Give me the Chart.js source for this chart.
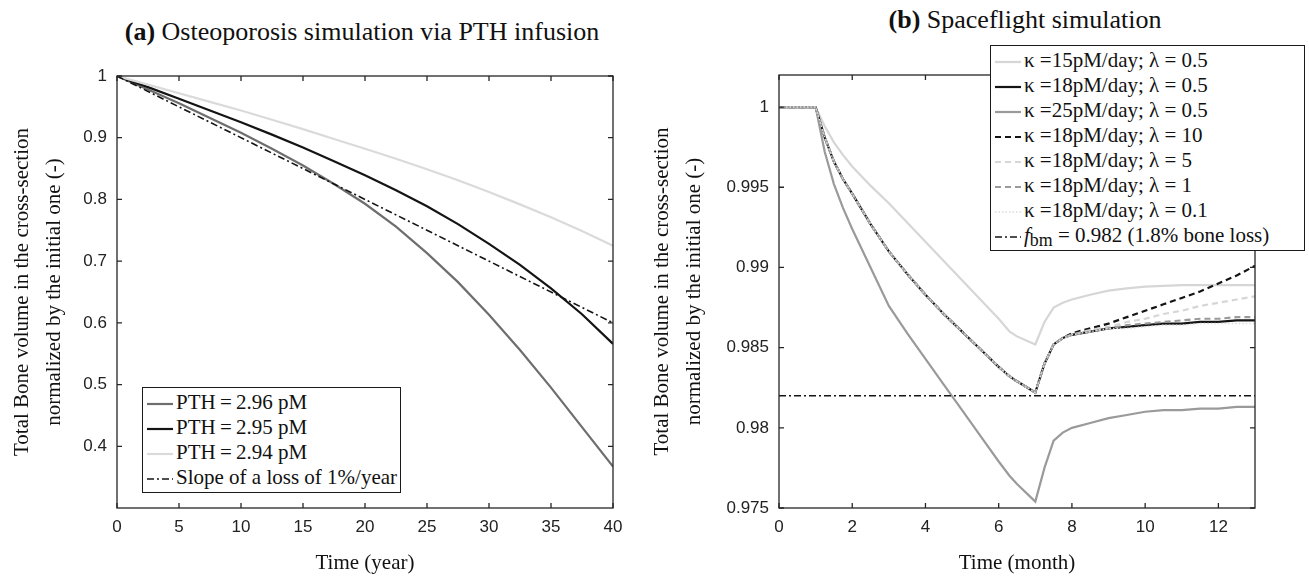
<!DOCTYPE html>
<html lang="en">
<head>
<meta charset="UTF-8" />
<title>Bone volume simulations</title>
<script src="https://cdn.jsdelivr.net/npm/chart.js@4.4.1/dist/chart.umd.min.js"></script>
<style>
  body { margin: 0; width: 1309px; height: 579px; background: #fff; position: relative; overflow: hidden; font-family: "Liberation Serif", "Times New Roman", serif; color: #111; }
  .title { position: absolute; font-size: 26px; line-height: 30px; white-space: nowrap; transform: translateX(-50%); }
  #cA { position: absolute; left: 0; top: 0; }
  #cB { position: absolute; left: 640px; top: 0; }
  .legend { position: absolute; background: #fff; border: 1.5px solid #1a1a1a; font-size: 21px; line-height: 25px; padding: 2px 3px 2px 4px; white-space: nowrap; }
  .legend svg { vertical-align: middle; margin-right: 3px; }
  .legend sub { font-size: 0.85em; vertical-align: -0.25em; line-height: 0; }
</style>
</head>
<body>
<div class="title" style="left:362px; top:17px"><b>(a)</b> Osteoporosis simulation via PTH infusion</div>
<div class="title" style="left:1025px; top:5px"><b>(b)</b> Spaceflight simulation</div>
<canvas id="cA" width="640" height="579"></canvas>
<canvas id="cB" width="669" height="579"></canvas>
<div id="legA" class="legend" style="left:142px; top:387px"></div>
<div id="legB" class="legend" style="left:990px; top:45px; width:306px"></div>

<script>
// (a) osteoporosis, time in years
var years = [0, 2.5, 5, 7.5, 10, 12.5, 15, 17.5, 20, 22.5, 25, 27.5, 30, 32.5, 35, 37.5, 40];
var pth296 = [1.000, 0.978, 0.956, 0.932, 0.908, 0.882, 0.855, 0.825, 0.793, 0.756, 0.713, 0.666, 0.613, 0.556, 0.495, 0.431, 0.367];
var pth295 = [1.000, 0.982, 0.963, 0.944, 0.925, 0.905, 0.884, 0.862, 0.839, 0.815, 0.789, 0.760, 0.728, 0.694, 0.656, 0.614, 0.566];
var pth294 = [1.000, 0.986, 0.972, 0.958, 0.944, 0.929, 0.914, 0.898, 0.882, 0.866, 0.849, 0.831, 0.812, 0.792, 0.771, 0.749, 0.725];
var slopeYears = [0, 40];
var slopeLoss = [1, 0.6];
var labelsA = ["PTH\u2009=\u20092.96 pM", "PTH\u2009=\u20092.95 pM", "PTH\u2009=\u20092.94 pM", "Slope of a loss of 1%/year"];
var xTicksA = [0, 5, 10, 15, 20, 25, 30, 35, 40];
var yTicksA = [0.4, 0.5, 0.6, 0.7, 0.8, 0.9, 1];

// (b) spaceflight, time in months
var months = [0, 0.5, 1, 1.25, 1.5, 1.75, 2, 2.5, 3, 3.5, 4, 4.5, 5, 5.5, 6, 6.3, 6.5, 7, 7.25, 7.5, 7.75, 8, 8.5, 9, 9.5, 10, 10.5, 11, 11.5, 12, 12.5, 13];
var k15 = [1, 1, 1, 0.9988, 0.9978, 0.9970, 0.9963, 0.9951, 0.9940, 0.9928, 0.9916, 0.9904, 0.9892, 0.9880, 0.9868, 0.9860, 0.9857, 0.9852, 0.9866, 0.9875, 0.9878, 0.9880, 0.9883, 0.98855, 0.9887, 0.9888, 0.98885, 0.9889, 0.9889, 0.9889, 0.9889, 0.9889];
var k18 = [1, 1, 1, 0.9981, 0.9966, 0.9955, 0.9946, 0.9927, 0.9910, 0.9896, 0.9883, 0.9871, 0.9860, 0.9849, 0.9838, 0.9832, 0.9829, 0.9822, 0.9840, 0.9852, 0.9856, 0.9858, 0.9860, 0.9862, 0.9863, 0.9864, 0.9865, 0.9865, 0.9866, 0.9866, 0.9867, 0.9867];
var k25 = [1, 1, 1, 0.9972, 0.9952, 0.9937, 0.9924, 0.9900, 0.9876, 0.9859, 0.9843, 0.9827, 0.9811, 0.9795, 0.9779, 0.9770, 0.9765, 0.9754, 0.9775, 0.9792, 0.9797, 0.9800, 0.9803, 0.9806, 0.9808, 0.9810, 0.9811, 0.9811, 0.9812, 0.9812, 0.9813, 0.9813];
var lam10 = [1, 1, 1, 0.9981, 0.9966, 0.9955, 0.9946, 0.9927, 0.9910, 0.9896, 0.9883, 0.9871, 0.9860, 0.9849, 0.9838, 0.9832, 0.9829, 0.9822, 0.9840, 0.9852, 0.9856, 0.9859, 0.9862, 0.9865, 0.9869, 0.9873, 0.9877, 0.9881, 0.9885, 0.9890, 0.9895, 0.9901];
var lam5 = [1, 1, 1, 0.9981, 0.9966, 0.9955, 0.9946, 0.9927, 0.9910, 0.9896, 0.9883, 0.9871, 0.9860, 0.9849, 0.9838, 0.9832, 0.9829, 0.9822, 0.9840, 0.9852, 0.9856, 0.9858, 0.9861, 0.9863, 0.9866, 0.9868, 0.9871, 0.9873, 0.9876, 0.9878, 0.9880, 0.9882];
var lam1 = [1, 1, 1, 0.9981, 0.9966, 0.9955, 0.9946, 0.9927, 0.9910, 0.9896, 0.9883, 0.9871, 0.9860, 0.9849, 0.9838, 0.9832, 0.9829, 0.9822, 0.9840, 0.9852, 0.9856, 0.9858, 0.9860, 0.9862, 0.9864, 0.9865, 0.9866, 0.9867, 0.9868, 0.9868, 0.9869, 0.9869];
var lam01 = [1, 1, 1, 0.9981, 0.9966, 0.9955, 0.9946, 0.9927, 0.9910, 0.9896, 0.9883, 0.9871, 0.9860, 0.9849, 0.9838, 0.9832, 0.9829, 0.9822, 0.9840, 0.9852, 0.9856, 0.9858, 0.9860, 0.9862, 0.9862, 0.9863, 0.9864, 0.9864, 0.9865, 0.9865, 0.9865, 0.9865];
var fbmMonths = [0, 13];
var fbm = [0.982, 0.982];
var labelsB = ["\u03ba =15pM/day; \u03bb = 0.5", "\u03ba =18pM/day; \u03bb = 0.5", "\u03ba =25pM/day; \u03bb = 0.5",
  "\u03ba =18pM/day; \u03bb = 10", "\u03ba =18pM/day; \u03bb = 5", "\u03ba =18pM/day; \u03bb = 1",
  "\u03ba =18pM/day; \u03bb = 0.1", "<i>f</i><sub>bm</sub> = 0.982 (1.8% bone loss)"];
var xTicksB = [0, 2, 4, 6, 8, 10, 12];
var yTicksB = [0.975, 0.98, 0.985, 0.99, 0.995, 1];

var yTitle = ["Total Bone volume in the cross-section", "normalized by the initial one (-)"];

function pts(xs, ys) {
  return xs.map(function (x, i) { return { x: x, y: ys[i] }; });
}

function series(label, xs, ys, color, width, dash, n, i) {
  return {
    label: label, data: pts(xs, ys), borderColor: color, borderWidth: width,
    borderDash: dash, pointRadius: 0, tension: 0, fill: false, order: n - i
  };
}

function fmt(v) { return String(+v.toFixed(4)); }

// box round the plot with inward ticks on all four sides
var frameTicks = {
  id: "frameTicks",
  afterDraw: function (chart) {
    var ctx = chart.ctx, a = chart.chartArea, x = chart.scales.x, y = chart.scales.y;
    ctx.save();
    ctx.strokeStyle = "#262626";
    ctx.lineWidth = 1.3;
    ctx.strokeRect(a.left, a.top, a.right - a.left, a.bottom - a.top);
    ctx.beginPath();
    x.ticks.forEach(function (t) {
      var p = x.getPixelForValue(t.value);
      ctx.moveTo(p, a.bottom); ctx.lineTo(p, a.bottom - 5);
      ctx.moveTo(p, a.top); ctx.lineTo(p, a.top + 5);
    });
    y.ticks.forEach(function (t) {
      var p = y.getPixelForValue(t.value);
      ctx.moveTo(a.left, p); ctx.lineTo(a.left + 5, p);
      ctx.moveTo(a.right, p); ctx.lineTo(a.right - 5, p);
    });
    ctx.stroke();
    ctx.restore();
  }
};

function options(o) {
  return {
    responsive: false,
    animation: false,
    layout: { padding: { left: 0, right: o.padRight, top: o.top, bottom: 0 } },
    plugins: { legend: { display: false }, tooltip: { enabled: false } },
    scales: {
      x: {
        type: "linear", min: o.xMin, max: o.xMax,
        afterBuildTicks: function (s) { s.ticks = o.xTicks.map(function (v) { return { value: v }; }); },
        afterFit: function (s) { s.height = 579 - 508; },
        grid: { display: false, drawTicks: false },
        border: { display: false },
        ticks: { padding: 9, color: "#222", autoSkip: false, maxRotation: 0,
          font: { family: "Liberation Sans", size: 17 }, callback: fmt },
        title: { display: true, text: o.xTitle, color: "#111",
          font: { family: "Liberation Serif", size: 21, lineHeight: 1.2 }, padding: { top: 0, bottom: 3 } }
      },
      y: {
        type: "linear", min: o.yMin, max: o.yMax,
        afterBuildTicks: function (s) { s.ticks = o.yTicks.map(function (v) { return { value: v }; }); },
        afterFit: function (s) { s.width = o.yWidth; },
        grid: { display: false, drawTicks: false },
        border: { display: false },
        ticks: { padding: 10, color: "#222", autoSkip: false,
          font: { family: "Liberation Sans", size: 17 }, callback: fmt },
        title: { display: true, text: yTitle, color: "#111",
          font: { family: "Liberation Serif", size: 21, lineHeight: 1.5 }, padding: { top: 7, bottom: 0 } }
      }
    }
  };
}

function buildLegend(chart, el, labels) {
  chart.data.datasets.forEach(function (d, i) {
    var row = document.createElement("div");
    var dash = d.borderDash && d.borderDash.length ? ' stroke-dasharray="' + d.borderDash.join(" ") + '"' : "";
    row.innerHTML = '<svg width="26" height="12"><line x1="0" y1="6" x2="26" y2="6" stroke="' + d.borderColor +
      '" stroke-width="' + d.borderWidth + '"' + dash + '/></svg><span>' + labels[i] + "</span>";
    el.appendChild(row);
  });
}

var chartA = new Chart(document.getElementById("cA"), {
  type: "line",
  data: {
    datasets: [
      series(labelsA[0], years, pth296, "#6e6e6e", 2.2, [], 4, 0),
      series(labelsA[1], years, pth295, "#141414", 2.2, [], 4, 1),
      series(labelsA[2], years, pth294, "#dadada", 2.2, [], 4, 2),
      series(labelsA[3], slopeYears, slopeLoss, "#141414", 1.6, [7, 3, 2, 3], 4, 3)
    ]
  },
  options: options({ xMin: 0, xMax: 40, yMin: 0.3, yMax: 1, xTicks: xTicksA, yTicks: yTicksA,
    xTitle: "Time (year)", padRight: 27, top: 76, yWidth: 117 }),
  plugins: [frameTicks]
});

var chartB = new Chart(document.getElementById("cB"), {
  type: "line",
  data: {
    datasets: [
      series(labelsB[0], months, k15, "#d6d6d6", 2.2, [], 8, 0),
      series(labelsB[1], months, k18, "#141414", 2.2, [], 8, 1),
      series(labelsB[2], months, k25, "#9a9a9a", 2.2, [], 8, 2),
      series(labelsB[3], months, lam10, "#141414", 2.2, [6, 4], 8, 3),
      series(labelsB[4], months, lam5, "#d6d6d6", 2.2, [6, 4], 8, 4),
      series(labelsB[5], months, lam1, "#9a9a9a", 2.2, [6, 4], 8, 5),
      series(labelsB[6], months, lam01, "#dcdcdc", 1.5, [1.5, 2], 8, 6),
      series("fbm = 0.982 (1.8% bone loss)", fbmMonths, fbm, "#141414", 1.5, [7, 3, 2, 3], 8, 7)
    ]
  },
  options: options({ xMin: 0, xMax: 13, yMin: 0.975, yMax: 1.002, xTicks: xTicksB, yTicks: yTicksB,
    xTitle: "Time (month)", padRight: 54, top: 75, yWidth: 139 }),
  plugins: [frameTicks]
});

buildLegend(chartA, document.getElementById("legA"), labelsA);
buildLegend(chartB, document.getElementById("legB"), labelsB);
</script>
</body>
</html>
